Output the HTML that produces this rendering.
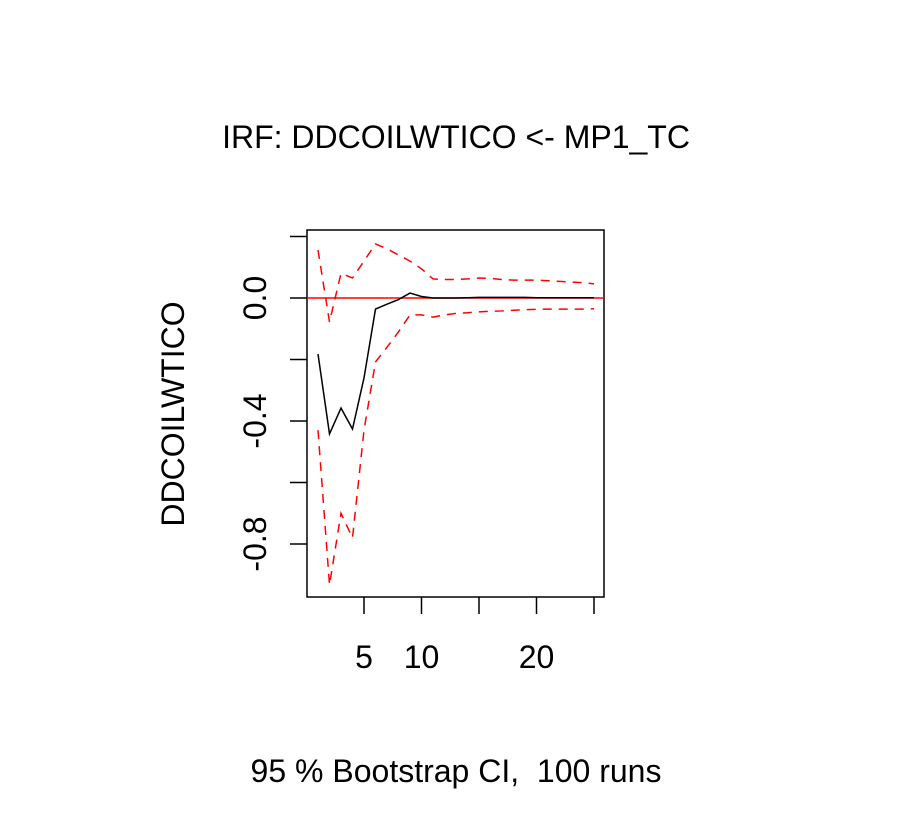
<!DOCTYPE html>
<html><head><meta charset="utf-8"><style>
body{margin:0;background:#fff}
svg text{font-family:"Liberation Sans",Arial,sans-serif;fill:#000}
</style></head><body>
<svg id="c" width="912" height="828">
<text x="456" y="148" font-size="32" text-anchor="middle">IRF: DDCOILWTICO &lt;- MP1_TC</text>
<text x="456" y="782" font-size="32" text-anchor="middle" xml:space="preserve">95 % Bootstrap CI,  100 runs</text>
<text transform="translate(184,414) rotate(-90)" font-size="32" text-anchor="middle">DDCOILWTICO</text>
<rect x="307" y="230" width="297" height="367" fill="none" stroke="#000" stroke-width="1.5"/>
<g id="g"></g>
</svg>
<script>
const steps=[1,2,3,4,5,6,7,8,9,10,11,12,13,14,15,16,17,18,19,20,21,22,23,24,25];
const irf=[-0.182,-0.442,-0.358,-0.426,-0.26,-0.036,-0.02,-0.005,0.016,0.005,0,0,0,0.001,0.002,0.002,0.002,0.002,0.002,0.001,0.001,0.001,0.001,0.001,0.001];
const upper=[0.156,-0.078,0.08,0.065,0.12,0.176,0.16,0.14,0.12,0.095,0.062,0.06,0.06,0.062,0.065,0.064,0.06,0.058,0.058,0.058,0.056,0.054,0.052,0.05,0.046];
const lower=[-0.43,-0.933,-0.70,-0.78,-0.43,-0.208,-0.16,-0.11,-0.055,-0.055,-0.062,-0.055,-0.05,-0.048,-0.045,-0.043,-0.042,-0.04,-0.038,-0.037,-0.036,-0.036,-0.036,-0.036,-0.035];
const yTicks=[0.2,0,-0.2,-0.4,-0.6,-0.8];
const yLabels=["","0.0","","-0.4","","-0.8"];
const xTicks=[5,10,15,20,25];
const xLabels=["5","10","","20",""];
const X=v=>318+(v-1)*11.5, Y=v=>298-v*307.5;
const g=document.getElementById('g'),NS='http://www.w3.org/2000/svg';
function mk(t,a){const e=document.createElementNS(NS,t);for(const k in a)e.setAttribute(k,a[k]);g.appendChild(e);return e;}
yTicks.forEach((v,i)=>{
 const l=mk('line',{x1:290,x2:307,y1:Y(v),y2:Y(v),stroke:'#000','stroke-width':1.5});
 
 
 if(yLabels[i]){const t=mk('text',{transform:`translate(266,${Y(v)}) rotate(-90)`,'font-size':32,'text-anchor':'middle'});t.textContent=yLabels[i];
 
 }
});
xTicks.forEach((v,i)=>{
 const l=mk('line',{x1:X(v),x2:X(v),y1:597,y2:614,stroke:'#000','stroke-width':1.5});
 
 
 if(xLabels[i]){const t=mk('text',{x:X(v),y:668,'font-size':32,'text-anchor':'middle'});t.textContent=xLabels[i];
 
 }
});
const z=mk('line',{x1:307,x2:604,y1:Y(0),y2:Y(0),stroke:'#f00','stroke-width':1.5});


function pl(d,col,dash,name){const p=mk('polyline',{points:d.map((v,i)=>X(steps[i])+','+Y(v)).join(' '),fill:'none',stroke:col,'stroke-width':1.5});
 if(dash)p.setAttribute('stroke-dasharray','9 7');
 
 }
pl(upper,'#f00',true,'upper-ci-line');
pl(lower,'#f00',true,'lower-ci-line');
pl(irf,'#000',false,'irf-line');
</script>
</body></html>
